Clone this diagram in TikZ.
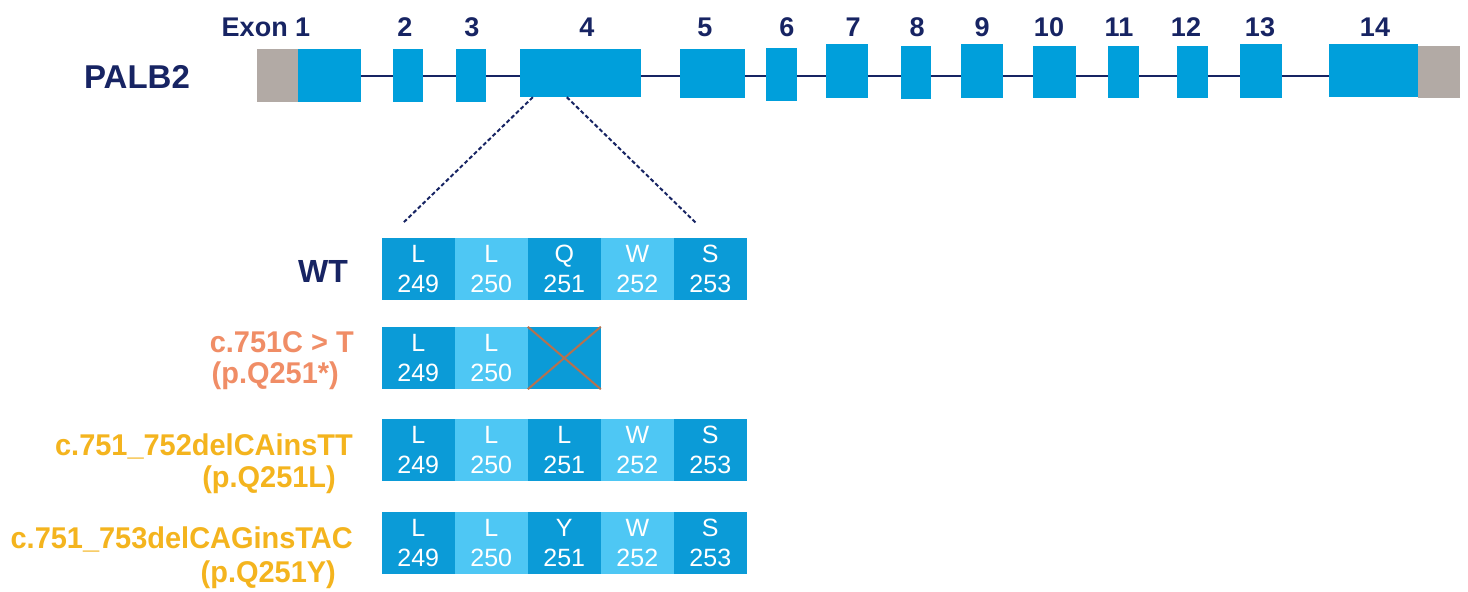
\documentclass[tikz,border=0pt]{standalone}
\usepackage{fontspec}
\setmainfont{Liberation Sans}
\usetikzlibrary{fit,positioning,calc,backgrounds}

\definecolor{exonblue}{HTML}{009FDB}
\definecolor{utrgrey}{HTML}{B2AAA5}
\definecolor{navy}{HTML}{172463}
\definecolor{celldark}{HTML}{0B9BD7}
\definecolor{celllight}{HTML}{4EC7F4}
\definecolor{salmon}{HTML}{F08D66}
\definecolor{gold}{HTML}{F4B41E}
\definecolor{stopx}{HTML}{B5714F}

\newcommand\pxfont[1]{\fontsize{#1}{#1}\selectfont}

\tikzset{
  exon/.style={fill=exonblue, inner sep=0pt, draw=none},
  utr/.style={fill=utrgrey, inner sep=0pt, draw=none},
  exonlabel/.style={anchor=base, text=navy, font=\pxfont{27}\bfseries, inner sep=0pt},
  intron/.style={draw=navy, line width=2pt},
  zoomline/.style={draw=navy, line width=2pt, dash pattern=on 4pt off 2.5pt},
  cell/.style={minimum width=72.6pt, minimum height=62pt, inner sep=0pt, text=white,
    align=center, font=\fontsize{25}{30}\selectfont},
  dk/.style={cell, fill=celldark},
  lt/.style={cell, fill=celllight},
  stopline/.style={draw=stopx, line width=2pt},
  varlabel/.style={anchor=base east, font=\pxfont{30}\bfseries, inner sep=0pt, xscale=0.965},
}

\begin{document}
\begin{tikzpicture}[x=1pt, y=-1pt]
\useasboundingbox (0,0) rectangle (1468,592);

% gene name
\node[text=navy, font=\pxfont{33}\bfseries, inner sep=0pt] (gene) at (137,77) {PALB2};

% exons and untranslated ends
\node[utr,  fit={(257,49) (298,102)}] (utr5) {};
\node[exon, fit={(298,49) (361,102)}] (e1) {};
\node[exon, fit={(393,49) (423,102)}] (e2) {};
\node[exon, fit={(456,49) (486,102)}] (e3) {};
\node[exon, fit={(520,49) (641,97)}] (e4) {};
\node[exon, fit={(680,49) (745,98)}] (e5) {};
\node[exon, fit={(766,48) (797,101)}] (e6) {};
\node[exon, fit={(826,44) (868,98)}] (e7) {};
\node[exon, fit={(901,46) (931,99)}] (e8) {};
\node[exon, fit={(961,44) (1003,98)}] (e9) {};
\node[exon, fit={(1033,46) (1076,98)}] (e10) {};
\node[exon, fit={(1108,46) (1139,98)}] (e11) {};
\node[exon, fit={(1177,46) (1208,98)}] (e12) {};
\node[exon, fit={(1240,44) (1282,98)}] (e13) {};
\node[exon, fit={(1329,44) (1418,97)}] (e14) {};
\node[utr,  fit={(1418,46) (1460,98)}] (utr3) {};

% white page and intron backbone, both behind the exons
\coordinate (spine) at (0,76);
\begin{scope}[on background layer]
  \fill[white] (0,0) rectangle (1468,592);
  \draw[intron] (e1.east |- spine) -- (e14.west |- spine);
\end{scope}

% exon numbers
\node[exonlabel] (l1) at (266,36) {Exon 1};
\node[exonlabel] (l2) at (405,36) {2};
\node[exonlabel] (l3) at (472,36) {3};
\node[exonlabel] (l4) at (587,36) {4};
\node[exonlabel] (l5) at (705,36) {5};
\node[exonlabel] (l6) at (787,36) {6};
\node[exonlabel] (l7) at (853,36) {7};
\node[exonlabel] (l8) at (917,36) {8};
\node[exonlabel] (l9) at (982,36) {9};
\node[exonlabel] (l10) at (1049,36) {10};
\node[exonlabel] (l11) at (1119,36) {11};
\node[exonlabel] (l12) at (1186,36) {12};
\node[exonlabel] (l13) at (1260,36) {13};
\node[exonlabel] (l14) at (1375,36) {14};

% residues, wild type
\node[dk] (w1) at (418.3,269) {L\\249};
\node[lt, right=0pt of w1] (w2) {L\\250};
\node[dk, right=0pt of w2] (w3) {Q\\251};
\node[lt, right=0pt of w3] (w4) {W\\252};
\node[dk, right=0pt of w4] (w5) {S\\253};

% zoom from exon 4 onto the residues
\coordinate (zl) at (403,223);
\coordinate (zr) at (696,223);
\draw[zoomline] ($(e4.south west)+(13,0)$) -- (zl);
\draw[zoomline] ($(e4.south west)+(47,0)$) -- (zr);

% nonsense variant
\node[dk] (a1) at (418.3,358) {L\\249};
\node[lt, right=0pt of a1] (a2) {L\\250};
\node[dk, right=0pt of a2] (a3) {};
\draw[stopline] (a3.north west) -- (a3.south east);
\draw[stopline] (a3.north east) -- (a3.south west);

% missense variant Q251L
\node[dk] (b1) at (418.3,450) {L\\249};
\node[lt, right=0pt of b1] (b2) {L\\250};
\node[dk, right=0pt of b2] (b3) {L\\251};
\node[lt, right=0pt of b3] (b4) {W\\252};
\node[dk, right=0pt of b4] (b5) {S\\253};

% missense variant Q251Y
\node[dk] (c1) at (418.3,543) {L\\249};
\node[lt, right=0pt of c1] (c2) {L\\250};
\node[dk, right=0pt of c2] (c3) {Y\\251};
\node[lt, right=0pt of c3] (c4) {W\\252};
\node[dk, right=0pt of c4] (c5) {S\\253};

% row labels
\node[anchor=base east, text=navy, font=\pxfont{32}\bfseries, inner sep=0pt] (wt) at (348,282) {WT};
\node[varlabel, text=salmon] (v1a) at (354,352) {c.751C > T};
\node[varlabel, text=salmon] (v1b) at (339,383) {(p.Q251*)};
\node[varlabel, text=gold] (v2a) at (353,455) {c.751\_752delCAinsTT};
\node[varlabel, text=gold] (v2b) at (336,487) {(p.Q251L)};
\node[varlabel, text=gold] (v3a) at (353,548) {c.751\_753delCAGinsTAC};
\node[varlabel, text=gold] (v3b) at (336,582) {(p.Q251Y)};
\end{tikzpicture}
\end{document}
